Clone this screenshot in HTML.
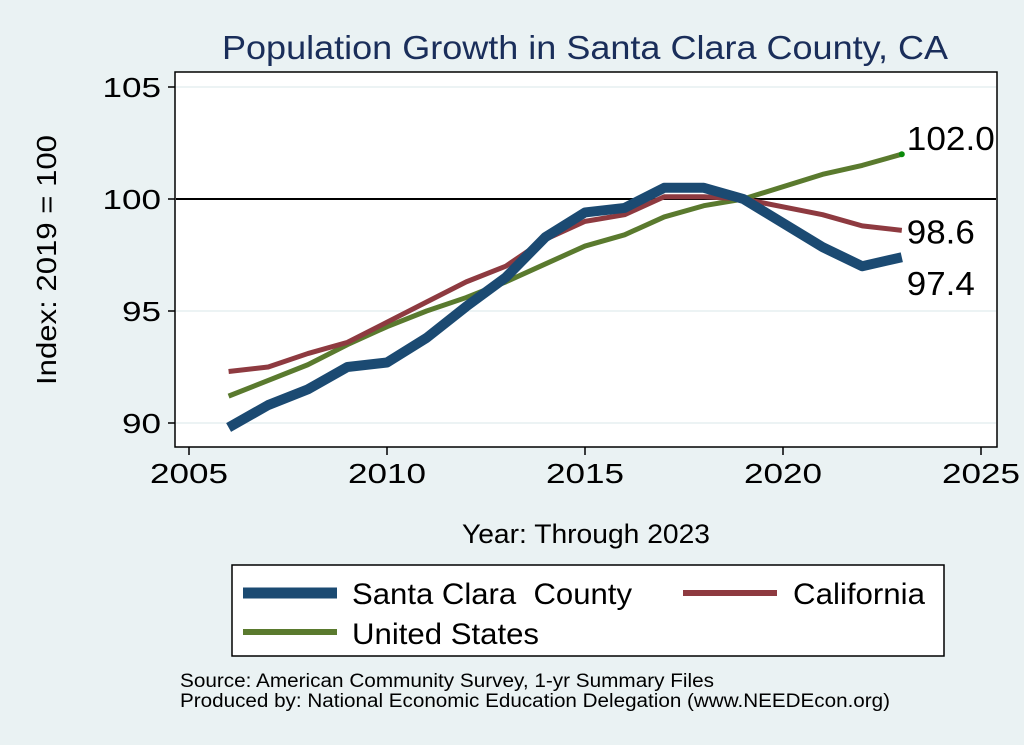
<!DOCTYPE html>
<html><head><meta charset="utf-8"><style>
body{margin:0;background:#eaf2f3;font-family:"Liberation Sans",sans-serif}
svg{display:block}
</style></head><body>
<svg width="1024" height="745" font-family="Liberation Sans, sans-serif">
<rect width="1024" height="745" fill="#eaf2f3"/>
<text x="585" y="59" text-anchor="middle" font-size="33" fill="#1a2e5a" textLength="726" lengthAdjust="spacingAndGlyphs">Population Growth in Santa Clara County, CA</text>
<rect x="175" y="72" width="822" height="375" fill="#fff" stroke="#000" stroke-width="1.5"/>
<g id="grid"></g><g id="axes"></g><g id="lines"></g>
<text transform="translate(56,260) rotate(-90)" text-anchor="middle" font-size="28" textLength="250" lengthAdjust="spacingAndGlyphs">Index: 2019 = 100</text>
<text x="586" y="543" text-anchor="middle" font-size="27" textLength="248" lengthAdjust="spacingAndGlyphs">Year: Through 2023</text>
<g>
<rect x="232" y="565" width="712" height="91" fill="#fff" stroke="#000" stroke-width="1.5"/>
<line x1="243" y1="593" x2="337" y2="593" stroke="#1b4a72" stroke-width="11"/>
<text x="352" y="604" font-size="30" textLength="280" lengthAdjust="spacingAndGlyphs">Santa Clara&#160; County</text>
<line x1="683" y1="593" x2="777" y2="593" stroke="#8e3a40" stroke-width="6"/>
<text x="793" y="604" font-size="30" textLength="132" lengthAdjust="spacingAndGlyphs">California</text>
<line x1="243" y1="632" x2="337" y2="632" stroke="#5a7a2e" stroke-width="6"/>
<text x="352" y="644" font-size="30" textLength="187" lengthAdjust="spacingAndGlyphs">United States</text>
</g>
<text x="180" y="687" font-size="19" textLength="534" lengthAdjust="spacingAndGlyphs">Source: American Community Survey, 1-yr Summary Files</text>
<text x="180" y="707" font-size="19" textLength="710" lengthAdjust="spacingAndGlyphs">Produced by: National Economic Education Delegation (www.NEEDEcon.org)</text>
</svg>
<script>
const years=[2006,2007,2008,2009,2010,2011,2012,2013,2014,2015,2016,2017,2018,2019,2021,2022,2023];
const santaClara=[89.8,90.8,91.5,92.5,92.7,93.8,95.2,96.5,98.3,99.4,99.6,100.5,100.5,100.0,97.85,97.0,97.4];
const california=[92.3,92.5,93.1,93.6,94.5,95.4,96.3,97.0,98.2,99.0,99.3,100.1,100.1,100.0,99.3,98.8,98.6];
const unitedStates=[91.2,91.9,92.6,93.5,94.3,95.0,95.6,96.3,97.1,97.9,98.4,99.2,99.7,100.0,101.1,101.5,102.0];
const xTicks=[2005,2010,2015,2020,2025];
const yTicks=[90,95,100,105];
const NS='http://www.w3.org/2000/svg';
const X=v=>189+(v-2005)*39.6;
const Y=v=>199-(v-100)*22.4;
function mk(t,a,p){const e=document.createElementNS(NS,t);for(const k in a)e.setAttribute(k,a[k]);p.appendChild(e);return e;}
const grid=document.getElementById('grid'),axes=document.getElementById('axes'),lines=document.getElementById('lines');
yTicks.forEach(v=>{
 const g=mk('line',{x1:176,x2:996,y1:Y(v),y2:Y(v),stroke:v===100?'#000':'#e6eff1','stroke-width':v===100?2:1.5},grid);
 
 
 const t=mk('line',{x1:168,x2:175,y1:Y(v),y2:Y(v),stroke:'#000','stroke-width':1.5},axes);
 
 
 const s=String(v);
 const l=mk('text',{x:161,y:Y(v)+10,'text-anchor':'end','font-size':28,textLength:s.length*19.5,lengthAdjust:'spacingAndGlyphs'},axes);l.textContent=s;
 
 
});
xTicks.forEach(v=>{
 const t=mk('line',{x1:X(v),x2:X(v),y1:447,y2:455,stroke:'#000','stroke-width':1.5},axes);
 
 
 const l=mk('text',{x:X(v),y:483,'text-anchor':'middle','font-size':28,textLength:78,lengthAdjust:'spacingAndGlyphs'},axes);l.textContent=v;
 
 
});
function series(vals,color,w,name){
 const p=mk('polyline',{points:years.map((y,i)=>X(y)+','+Y(vals[i])).join(' '),fill:'none',stroke:color,'stroke-width':w,'stroke-linejoin':'round'},lines);
 
 
}
series(unitedStates,'#5a7a2e',5,'line-united-states');
series(california,'#8e3a40',5,'line-california');
series(santaClara,'#1b4a72',10,'line-santa-clara');
const n=years.length-1;
const d=mk('circle',{cx:X(years[n]),cy:Y(unitedStates[n]),r:3,fill:'#0a8a0a'},lines);


[[unitedStates[n],-4,'label-us-end',88],[california[n],13,'label-california-end',68],[santaClara[n],38,'label-santa-clara-end',68]].forEach(([v,off,nm,tl])=>{
 const t=mk('text',{x:X(years[n])+5,y:Y(v)+off,'font-size':33,textLength:tl,lengthAdjust:'spacingAndGlyphs'},lines);t.textContent=v.toFixed(1);
 
 
});
</script>
</body></html>
